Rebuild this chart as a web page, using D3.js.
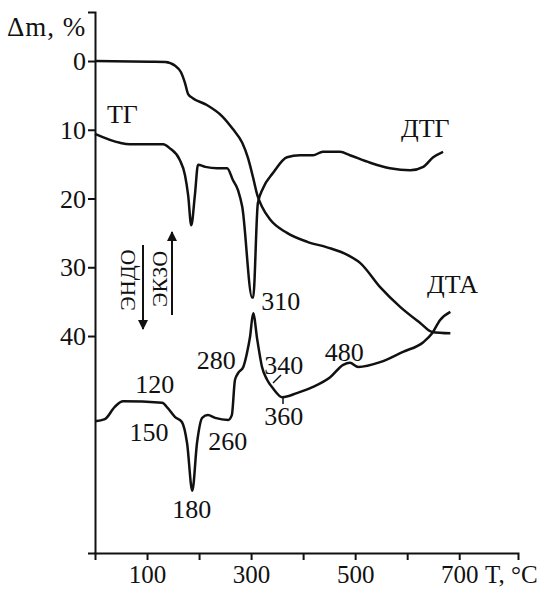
<!DOCTYPE html>
<html><head><meta charset="utf-8">
<script src="https://cdn.jsdelivr.net/npm/d3@7"></script>
<style>
html,body{margin:0;padding:0;background:#fff;}
svg{display:block;}
text{font-family:"Liberation Serif","Times New Roman",serif;fill:#111;}
</style></head>
<body>
<svg id="c" width="541" height="590"></svg>
<script>
// ---- data (T in °C, values in Δm-axis units) ----
const tgT   = [0,106,135,154,165,173,179,188,215,244,265,283,294,304,312,321,337,369,408,446,485,510,548,587,625,648,683];
const tgV   = [0,0.1,0.15,0.7,1.6,3.2,4.8,5.4,6.4,8.0,9.9,11.9,14.1,17.0,19.5,21.2,23.1,25.0,26.3,27.1,28.2,29.4,32.9,35.8,38.1,39.4,39.6];

const dtgT  = [0,48,67,131,144,163,173,179,185,192,198,212,235,254,265,275,283,302,304,313,323,342,369,394,419,438,471,490,529,567,606,631,650,669];
const dtgV  = [10.6,11.9,12.1,12.1,12.7,14.4,16.6,19.5,23.9,19.5,15.1,15.4,15.6,15.6,17.3,18.8,21.2,34.4,34.4,20.7,18.5,16.3,14.0,13.7,13.7,13.2,13.2,13.7,14.8,15.6,15.9,15.4,14.0,13.2];

const dtaT  = [0,19,38,54,129,140,154,167,177,187,196,206,217,231,256,263,269,275,285,292,298,304,312,321,331,342,360,388,419,452,477,490,506,548,592,631,648,663,683];
const dtaV  = [52.4,52.1,50.3,49.5,49.7,50.5,51.8,52.5,55.6,62.5,55.6,51.9,51.5,51.9,52.2,51.5,46.4,45.4,44.5,42.5,40.1,36.7,40.6,44.5,46.4,47.6,48.9,48.3,47.4,46.0,44.2,43.9,44.5,43.8,42.3,40.9,39.6,37.7,36.5];

const yTicks = [0,10,20,30,40];
const xTicks = [100,200,300,400,500,600,700];
const xTickLabels = ["100","","300","","500","","700"];

// peak annotations: [text, T, value]
const peakLabels = [
  ["120",115,48.3],["150",104,55.2],["180",186,66.5],["260",255,56.6],
  ["280",233,44.8],["310",357,36.2],["340",363,45.5],["360",363,53.0],["480",479,43.6]
];
const curveLabels = [["ТГ",23,9.0],["ДТГ",588,11.0],["ДТА",638,33.8]];

// ---- scales ----
const svg = d3.select("#c");
const x = d3.scaleLinear().domain([0,813]).range([95,518]);
const y = d3.scaleLinear().domain([-7.13,71.56]).range([12,553]);

// axes
const gy = svg.append("g").attr("transform","translate(95,0)")
  .call(d3.axisLeft(y).tickValues(yTicks).tickSize(7).tickPadding(2).tickFormat(d3.format("d")));
const gx = svg.append("g").attr("transform","translate(0,553)")
  .call(d3.axisBottom(x).tickValues(xTicks).tickSize(7).tickPadding(5).tickFormat((d,i)=>xTickLabels[i]));
[gy,gx].forEach(g=>{
  g.select(".domain").attr("stroke","#111").attr("stroke-width",2);
  g.selectAll(".tick line").attr("stroke","#111").attr("stroke-width",2);
  g.selectAll(".tick text").attr("font-size",26).attr("fill","#111")
    .style("font-family","'Liberation Serif',serif");
});
gx.selectAll(".tick text").attr("dy","0.71em").attr("font-size",25);
gy.selectAll(".tick text").attr("dy","0.33em");

// axis titles
svg.append("text").attr("x",7).attr("y",36).attr("font-size",27).attr("letter-spacing",1).text("Δm, %");
svg.append("text").attr("x",485).attr("y",583).attr("font-size",25).text("T, °C");

// curves
const line = d3.line().x(d=>x(d[0])).y(d=>y(d[1])).curve(d3.curveMonotoneX);
const series = [
  d3.zip(tgT,tgV), d3.zip(dtgT,dtgV), d3.zip(dtaT,dtaV)
];
series.forEach(s=>{
  svg.append("path").datum(s).attr("d",line)
    .attr("fill","none").attr("stroke","#111").attr("stroke-width",2.5)
    .attr("stroke-linejoin","round");
});

// curve labels
curveLabels.forEach(([t,a,b])=>{
  svg.append("text").attr("x",x(a)).attr("y",y(b)).attr("font-size",26).text(t);
});
// peak labels
peakLabels.forEach(([t,a,b])=>{
  svg.append("text").attr("x",x(a)).attr("y",y(b)).attr("font-size",26)
    .attr("text-anchor","middle").text(t);
});
// small leaders for 340 / 360
svg.append("line").attr("x1",273).attr("y1",383).attr("x2",281).attr("y2",375)
  .attr("stroke","#111").attr("stroke-width",1.5);
svg.append("line").attr("x1",283).attr("y1",397).attr("x2",283).attr("y2",404)
  .attr("stroke","#111").attr("stroke-width",1.5);

// ЭНДО / ЭКЗО arrows
const defs = svg.append("defs");
defs.append("marker").attr("id","ah").attr("viewBox","0 0 10 10")
  .attr("refX",9).attr("refY",5)
  .attr("markerUnits","userSpaceOnUse").attr("orient","auto")
  .attr("markerWidth",12).attr("markerHeight",10)
  .append("path").attr("d","M0,0 L10,5 L0,10 Z").attr("fill","#111");
svg.append("line").attr("x1",143).attr("y1",245).attr("x2",143).attr("y2",329)
  .attr("stroke","#111").attr("stroke-width",2).attr("marker-end","url(#ah)");
svg.append("line").attr("x1",172).attr("y1",315).attr("x2",172).attr("y2",232)
  .attr("stroke","#111").attr("stroke-width",2).attr("marker-end","url(#ah)");
svg.append("text").attr("transform","translate(135,280) rotate(-90)")
  .attr("text-anchor","middle").attr("font-size",22).text("ЭНДО");
svg.append("text").attr("transform","translate(167,279) rotate(-90)")
  .attr("text-anchor","middle").attr("font-size",22).text("ЭКЗО");
</script>
</body></html>
